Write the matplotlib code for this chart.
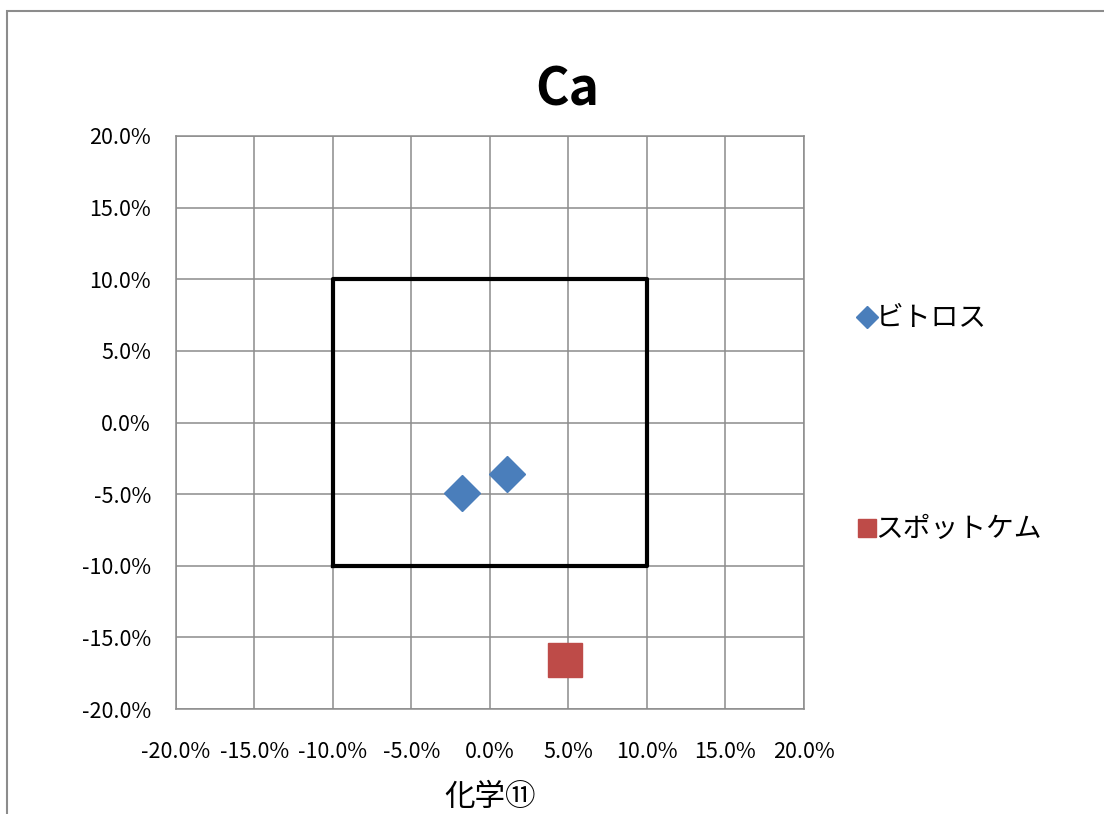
import matplotlib
matplotlib.use("Agg")
import matplotlib.pyplot as plt
from matplotlib.patches import Rectangle
from matplotlib.ticker import PercentFormatter, MultipleLocator
from matplotlib.lines import Line2D

plt.rcParams['font.family'] = ['Noto Sans CJK JP', 'DejaVu Sans']
plt.rcParams['axes.unicode_minus'] = False

# ── data ───────────────────────────────────────────────────────────────
bitros_x = [-1.8, 1.1]
bitros_y = [-4.9, -3.6]
spot_x = [4.8]
spot_y = [-16.6]
box_lim = 10.0
series_names = ["ビトロス", "スポットケム"]

# ── plot ───────────────────────────────────────────────────────────────
fig = plt.figure(figsize=(11.04, 8.14), dpi=100)
ax = fig.add_axes([176/1104, 1-709/814, (804-176)/1104, (709-136)/814])

ax.set_xlim(-20, 20)
ax.set_ylim(-20, 20)
ax.xaxis.set_major_locator(MultipleLocator(5))
ax.yaxis.set_major_locator(MultipleLocator(5))
fmt = PercentFormatter(decimals=1)
ax.xaxis.set_major_formatter(fmt)
ax.yaxis.set_major_formatter(fmt)
ax.grid(True, color="#8c8c8c", linewidth=1.1)
ax.set_axisbelow(True)
for s in ax.spines.values():
    s.set_color("#8c8c8c")
    s.set_linewidth(1.1)
ax.tick_params(length=0, labelsize=15.5)
ax.tick_params(axis="y", pad=18)
ax.tick_params(axis="x", pad=23)

ax.plot([-box_lim, box_lim, box_lim, -box_lim, -box_lim],
        [-box_lim, -box_lim, box_lim, box_lim, -box_lim],
        color="black", linewidth=3, zorder=3)

ax.plot(bitros_x, bitros_y, linestyle="none", marker="D", markersize=18,
        color="#4a7ebb", zorder=4)
ax.plot(spot_x, spot_y, linestyle="none", marker="s", markersize=24,
        color="#be4b48", zorder=4)

fig.text(567/1104, 1-90/814, "Ca", fontsize=37, fontweight="bold",
         ha="center", va="center")
ax.set_xlabel("化学⑪", fontsize=22, labelpad=14)

handles = [
    Line2D([], [], linestyle="none", marker="D", markersize=11, color="#4a7ebb"),
    Line2D([], [], linestyle="none", marker="s", markersize=13, color="#be4b48"),
]
fig.legend(handles, series_names, loc="upper left",
           bbox_to_anchor=(831/1104, 1-281/814), frameon=False,
           fontsize=20, labelspacing=6.52, handletextpad=-0.2,
           handlelength=1.0, borderpad=0.3)

fig.add_artist(Rectangle((7/1104, -0.1), 1.2, 1-11/814+0.1,
                         transform=fig.transFigure, fill=False,
                         edgecolor="#8c8c8c", linewidth=1.5))

fig.savefig("out.png", dpi=100)
